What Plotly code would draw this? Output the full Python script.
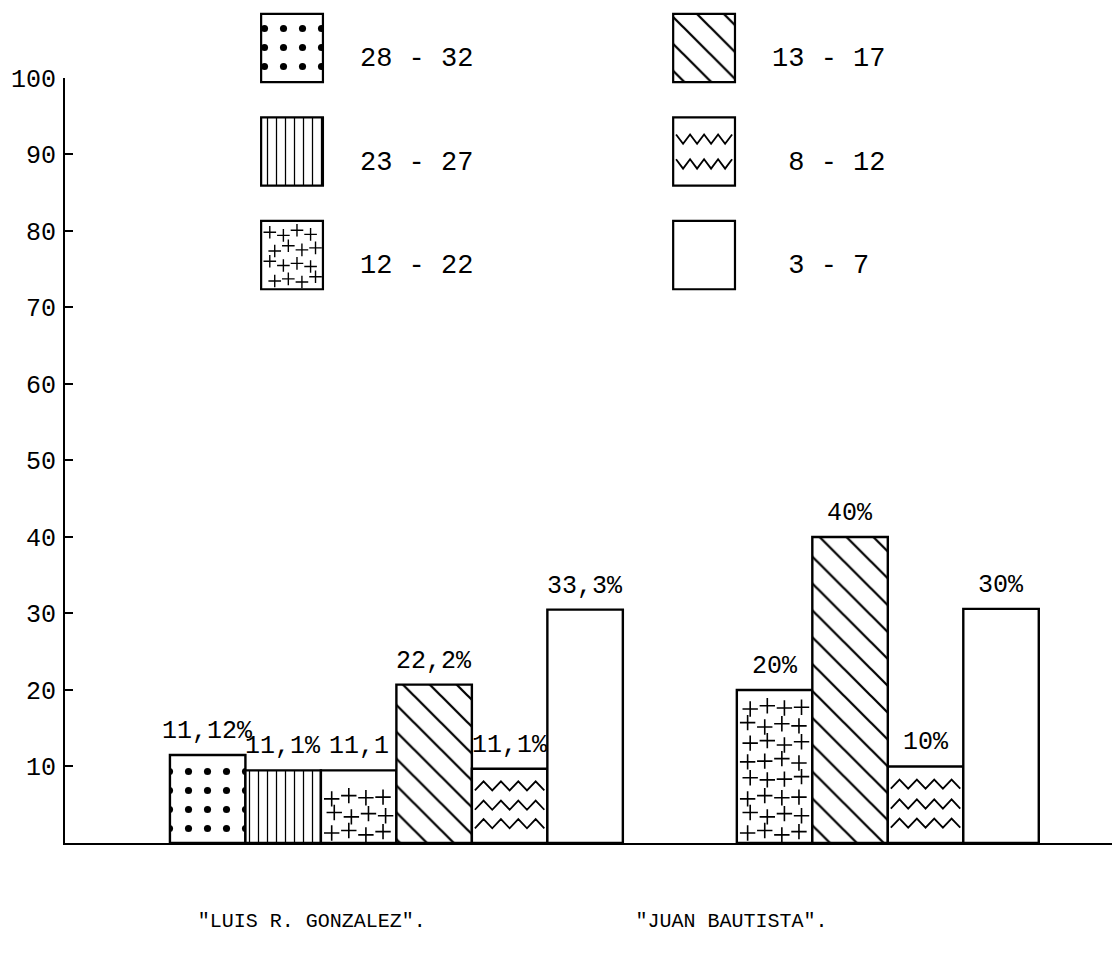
import plotly.graph_objects as go

# ---------------- data ----------------
age_classes = ["28 - 32", "23 - 27", "12 - 22", "13 - 17", "8 - 12", "3 - 7"]
legend_texts = ["28 - 32", "23 - 27", "12 - 22", "13 - 17", "\u00a08 - 12", "\u00a03 - 7"]
schools = ['"LUIS R. GONZALEZ".', '"JUAN BAUTISTA".']

luis_classes = ["28 - 32", "23 - 27", "12 - 22", "13 - 17", "8 - 12", "3 - 7"]
luis_values = [11.5, 9.5, 9.5, 20.7, 9.7, 30.5]          # bar heights as drawn
luis_labels = ["11,12%", "11,1%", "11,1", "22,2%", "11,1%", "33,3%"]

juan_classes = ["12 - 22", "13 - 17", "8 - 12", "3 - 7"]
juan_values = [20.0, 40.0, 10.0, 30.6]
juan_labels = ["20%", "40%", "10%", "30%"]

y_ticks = [10, 20, 30, 40, 50, 60, 70, 80, 90, 100]

# ---------------- layout helpers ----------------
FONT = "Liberation Mono"
group_start = [1.39, 8.9]          # left edge (in bar-slot units) of each school's group
school_label_x = [3.27, 8.83]
groups = [(luis_classes, luis_values, luis_labels), (juan_classes, juan_values, juan_labels)]

styles = {
    "28 - 32": dict(shape=".", size=19, solidity=0.11),
    "23 - 27": dict(shape="|", size=9, solidity=0.14),
    "12 - 22": dict(shape=""),
    "13 - 17": dict(shape="\\", size=19, solidity=0.12),
    "8 - 12": dict(shape=""),
    "3 - 7": dict(shape=""),
}

def pattern(cls):
    st = styles[cls]
    if not st["shape"]:
        return dict(shape="")
    return dict(shape=st["shape"], size=st["size"], solidity=st["solidity"],
                fgcolor="black", bgcolor="white", fillmode="replace")

fig = go.Figure()

# main bars, one trace per age class
bar_pos = {c: ([], []) for c in age_classes}
annotations = []
for gi, (cls_list, vals, labs) in enumerate(groups):
    for i, (c, v, lab) in enumerate(zip(cls_list, vals, labs)):
        xc = group_start[gi] + i + 0.5
        bar_pos[c][0].append(xc)
        bar_pos[c][1].append(v)
        annotations.append(dict(x=xc, y=v, xref="x", yref="y", text=lab, showarrow=False,
                                yanchor="bottom", yshift=7,
                                font=dict(family=FONT, size=25, color="black")))

for c in age_classes:
    xs, ys = bar_pos[c]
    fig.add_trace(go.Bar(x=xs, y=ys, width=1.0, name=c, showlegend=False,
                         marker=dict(color="white", line=dict(color="black", width=2.4),
                                     pattern=pattern(c)),
                         xaxis="x", yaxis="y", hoverinfo="skip"))

# decorations: zigzag for "8 - 12", scattered crosses for "12 - 22"
def zigzag(x0, x1, y, amp, teeth):
    n = teeth * 2
    xs = [x0 + (x1 - x0) * k / n for k in range(n + 1)]
    ys = [y + (amp if k % 2 else -amp) for k in range(n + 1)]
    return xs, ys

def crosses(xc, half_w, y_lo, y_hi, dy, ncol):
    xs, ys = [], []
    jit = [0.0, 0.35, -0.25, 0.2, -0.1]
    r = 0
    y = y_lo
    while y <= y_hi + 1e-9:
        for k in range(ncol):
            off = -half_w + (2 * half_w) * k / (ncol - 1) + (0.05 * half_w if r % 2 else -0.05 * half_w)
            xs.append(xc + off)
            ys.append(y + jit[(k + r) % len(jit)] * dy * 0.4)
        y += dy
        r += 1
    return xs, ys

zx, zy = [], []
for xc, v in zip(*bar_pos["8 - 12"]):
    for frac in (0.26, 0.51, 0.77):
        a, b = zigzag(xc - 0.46, xc + 0.46, v * frac, 0.6, 4)
        zx += a + [None]
        zy += b + [None]
fig.add_trace(go.Scatter(x=zx, y=zy, mode="lines", line=dict(color="black", width=1.8),
                         showlegend=False, hoverinfo="skip", xaxis="x", yaxis="y"))

cx, cy = [], []
for xc, v in zip(*bar_pos["12 - 22"]):
    a, b = crosses(xc, 0.34, 1.3, v - 1.2, 2.35, 4)
    cx += a
    cy += b
fig.add_trace(go.Scatter(x=cx, y=cy, mode="markers",
                         marker=dict(symbol="cross-thin", size=11, line=dict(color="black", width=1.6)),
                         showlegend=False, hoverinfo="skip", xaxis="x", yaxis="y"))

# ---------------- hand-made legend in its own axes ----------------
BOX_W, BOX_H = 0.15, 0.66
for k, c in enumerate(age_classes):
    col, row = k // 3, k % 3
    fig.add_trace(go.Bar(x=[col], y=[BOX_H], base=[row - BOX_H / 2], width=BOX_W,
                         marker=dict(color="white", line=dict(color="black", width=2.2),
                                     pattern=pattern(c)),
                         showlegend=False, hoverinfo="skip", xaxis="x2", yaxis="y2"))
fig.add_trace(go.Scatter(x=[k // 3 + 0.165 for k in range(6)], y=[k % 3 + 0.11 for k in range(6)],
                         text=legend_texts, mode="text", textposition="middle right",
                         textfont=dict(family=FONT, size=27, color="black"),
                         showlegend=False, hoverinfo="skip", xaxis="x2", yaxis="y2"))
# legend decorations
k_z = age_classes.index("8 - 12")
col, row = k_z // 3, k_z % 3
lzx, lzy = [], []
for f in (-0.12, 0.12):
    a, b = zigzag(col - 0.068, col + 0.068, row + f, 0.045, 4)
    lzx += a + [None]
    lzy += b + [None]
fig.add_trace(go.Scatter(x=lzx, y=lzy, mode="lines", line=dict(color="black", width=1.8),
                         showlegend=False, hoverinfo="skip", xaxis="x2", yaxis="y2"))
k_c = age_classes.index("12 - 22")
col, row = k_c // 3, k_c % 3
lcx, lcy = [], []
jit = [0.0, 0.03, -0.02, 0.02]
for r in range(4):
    for q in range(4):
        lcx.append(col - 0.05 + 0.033 * q + (0.008 if r % 2 else -0.004))
        lcy.append(row - 0.22 + 0.15 * r + jit[(q + r) % 4])
fig.add_trace(go.Scatter(x=lcx, y=lcy, mode="markers",
                         marker=dict(symbol="cross-thin", size=9, line=dict(color="black", width=1.4)),
                         showlegend=False, hoverinfo="skip", xaxis="x2", yaxis="y2"))

fig.update_layout(
    template="none",
    width=1112, height=961,
    margin=dict(l=65, r=0, t=0, b=118, pad=0),
    paper_bgcolor="white", plot_bgcolor="rgba(0,0,0,0)",
    barmode="overlay",
    font=dict(family=FONT, color="black"),
    annotations=annotations,
    xaxis=dict(domain=[0, 1], range=[0, 13.87], showline=True, linecolor="black", linewidth=2,
               showgrid=False, zeroline=False, tickvals=school_label_x, ticktext=schools,
               ticks="", ticklabelstandoff=58, tickfont=dict(family=FONT, size=20, color="black"),
               automargin=False, fixedrange=True),
    yaxis=dict(domain=[0, 0.9075], range=[0, 100], showline=True, linecolor="black", linewidth=2,
               showgrid=False, zeroline=False, tickvals=y_ticks, ticks="inside", ticklen=8,
               tickwidth=2, tickcolor="black", tickfont=dict(family=FONT, size=25, color="black"),
               ticklabelstandoff=2, automargin=False, fixedrange=True),
    xaxis2=dict(domain=[0, 1], range=[-0.551, 1.990], visible=False, anchor="y2",
                automargin=False, fixedrange=True),
    yaxis2=dict(domain=[0.644, 1], range=[2.435, -0.464], visible=False, anchor="x2",
                automargin=False, fixedrange=True),
)

fig.write_html("out.html", config={"displayModeBar": False},
               post_script="document.body.style.margin='0';")
